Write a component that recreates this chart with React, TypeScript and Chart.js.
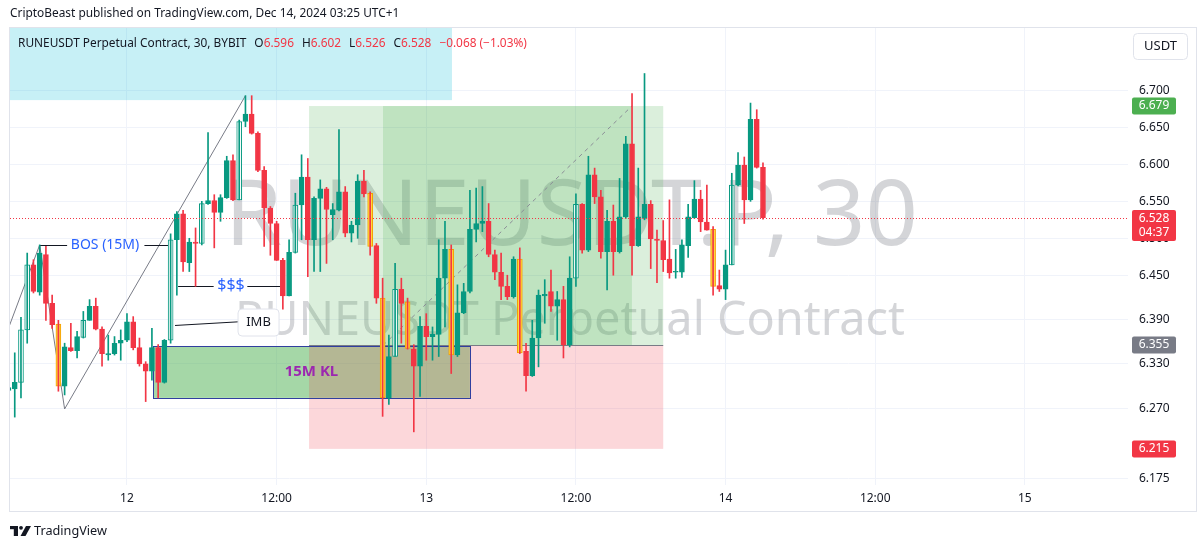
import React, { useEffect, useRef } from "react";
import { Chart, registerables } from "chart.js";

Chart.register(...registerables);

// ---------- DATA ----------
// Time axis: hours relative to Dec 12 00:00 (UTC+1); 30-minute candles starting Dec 11 14:30
const firstCandleHour = -9.5;
const candleStepHours = 0.5;

const opens = [
  6.294,
  6.296, 6.305, 6.376, 6.464, 6.427, 6.478, 6.412, 6.384, 6.300, 6.352,
  6.348, 6.366, 6.389, 6.408, 6.377, 6.342, 6.344, 6.358, 6.362, 6.387,
  6.352, 6.330, 6.320, 6.352, 6.305, 6.362, 6.498, 6.533, 6.467, 6.495,
  6.493, 6.547, 6.551, 6.535, 6.555, 6.605, 6.552, 6.658, 6.668, 6.642,
  6.592, 6.541, 6.520, 6.470, 6.422, 6.481, 6.545, 6.583, 6.498, 6.554,
  6.567, 6.532, 6.538, 6.563, 6.507, 6.518, 6.577, 6.561, 6.490, 6.419,
  6.284, 6.340, 6.431, 6.414, 6.350, 6.327, 6.381, 6.367, 6.370, 6.446,
  6.485, 6.342, 6.399, 6.428, 6.512, 6.520, 6.523, 6.478, 6.454, 6.435,
  6.421, 6.472, 6.347, 6.314, 6.365, 6.422, 6.428, 6.408, 6.417, 6.356,
  6.446, 6.546, 6.484, 6.586, 6.556, 6.482, 6.523, 6.482, 6.529, 6.628,
  6.490, 6.527, 6.546, 6.499, 6.497, 6.472, 6.454, 6.454, 6.490, 6.528,
  6.553, 6.522, 6.512, 6.436, 6.431, 6.464, 6.572, 6.599, 6.552, 6.661,
  6.596,
];
const highs = [
  6.299,
  6.345, 6.393, 6.480, 6.471, 6.491, 6.489, 6.423, 6.389, 6.358, 6.385,
  6.374, 6.401, 6.417, 6.419, 6.380, 6.369, 6.367, 6.376, 6.398, 6.394,
  6.365, 6.333, 6.378, 6.356, 6.363, 6.506, 6.536, 6.538, 6.500, 6.514,
  6.550, 6.643, 6.559, 6.559, 6.611, 6.613, 6.660, 6.693, 6.693, 6.644,
  6.597, 6.543, 6.523, 6.473, 6.498, 6.561, 6.613, 6.608, 6.556, 6.579,
  6.569, 6.547, 6.647, 6.570, 6.523, 6.586, 6.592, 6.563, 6.493, 6.446,
  6.369, 6.466, 6.446, 6.419, 6.356, 6.394, 6.398, 6.380, 6.498, 6.523,
  6.491, 6.437, 6.439, 6.565, 6.568, 6.570, 6.547, 6.484, 6.480, 6.450,
  6.475, 6.487, 6.358, 6.389, 6.430, 6.444, 6.457, 6.428, 6.435, 6.475,
  6.560, 6.547, 6.611, 6.595, 6.565, 6.538, 6.545, 6.581, 6.638, 6.696,
  6.595, 6.723, 6.551, 6.511, 6.524, 6.552, 6.485, 6.498, 6.546, 6.578,
  6.565, 6.572, 6.516, 6.457, 6.484, 6.588, 6.616, 6.610, 6.683, 6.674,
  6.602,
];
const lows = [
  6.226,
  6.258, 6.284, 6.358, 6.426, 6.423, 6.389, 6.378, 6.293, 6.288, 6.347,
  6.338, 6.365, 6.389, 6.376, 6.327, 6.335, 6.342, 6.335, 6.360, 6.349,
  6.327, 6.279, 6.308, 6.284, 6.304, 6.358, 6.423, 6.455, 6.455, 6.435,
  6.491, 6.546, 6.487, 6.523, 6.554, 6.551, 6.552, 6.651, 6.641, 6.590,
  6.489, 6.477, 6.470, 6.404, 6.422, 6.480, 6.498, 6.448, 6.455, 6.455,
  6.466, 6.498, 6.537, 6.502, 6.495, 6.500, 6.556, 6.477, 6.412, 6.259,
  6.275, 6.340, 6.358, 6.350, 6.238, 6.286, 6.335, 6.335, 6.340, 6.380,
  6.317, 6.340, 6.398, 6.426, 6.495, 6.509, 6.475, 6.444, 6.417, 6.417,
  6.419, 6.344, 6.293, 6.313, 6.326, 6.385, 6.401, 6.362, 6.338, 6.353,
  6.435, 6.480, 6.482, 6.547, 6.473, 6.430, 6.450, 6.480, 6.527, 6.450,
  6.489, 6.525, 6.459, 6.440, 6.455, 6.446, 6.446, 6.447, 6.474, 6.527,
  6.509, 6.511, 6.423, 6.428, 6.417, 6.464, 6.571, 6.520, 6.550, 6.595,
  6.526,
];
const closes = [
  6.298,
  6.305, 6.376, 6.464, 6.428, 6.480, 6.412, 6.383, 6.300, 6.353, 6.348,
  6.367, 6.389, 6.408, 6.377, 6.344, 6.344, 6.358, 6.362, 6.387, 6.352,
  6.330, 6.320, 6.352, 6.305, 6.362, 6.498, 6.533, 6.468, 6.495, 6.493,
  6.547, 6.551, 6.535, 6.555, 6.605, 6.552, 6.658, 6.668, 6.642, 6.592,
  6.541, 6.520, 6.470, 6.422, 6.481, 6.545, 6.583, 6.498, 6.554, 6.567,
  6.539, 6.539, 6.563, 6.507, 6.518, 6.577, 6.560, 6.489, 6.419, 6.284,
  6.340, 6.431, 6.412, 6.351, 6.327, 6.381, 6.367, 6.370, 6.446, 6.485,
  6.342, 6.399, 6.428, 6.512, 6.520, 6.523, 6.478, 6.454, 6.435, 6.421,
  6.472, 6.345, 6.314, 6.365, 6.423, 6.424, 6.408, 6.417, 6.356, 6.446,
  6.546, 6.484, 6.586, 6.556, 6.482, 6.523, 6.482, 6.529, 6.628, 6.490,
  6.529, 6.546, 6.499, 6.497, 6.471, 6.453, 6.455, 6.491, 6.529, 6.553,
  6.522, 6.511, 6.435, 6.431, 6.464, 6.572, 6.599, 6.552, 6.661, 6.596,
  6.528,
];
// indicator-highlighted candles (array indices)
const hollowBullCandles = [2, 3, 12, 26, 31, 37, 46, 62, 91, 116];
const highlightedBearCandles = [8, 58, 60, 64, 71, 82, 113];

const xTickValues = [0, 12, 24, 36, 48, 60, 72];
const xTickLabels = ["12", "12:00", "13", "12:00", "14", "12:00", "15"];
const yTickValues = [6.175, 6.27, 6.33, 6.39, 6.45, 6.5, 6.55, 6.6, 6.65, 6.7];
const xRange = [-9.38, 80.27];
const yRange = [6.1661, 6.7846];

// drawings (time in hours, price)
const infoBoxTimes = [-12, 26.06];
const infoBoxPrices = [6.687, 6.9];
const klBoxTimes = [2.09, 27.5];
const klBoxPrices = [6.284, 6.354];
const positionTimes = [14.6, 20.53, 40.49, 43.0]; // start, entry, exit, end
const positionPrices = [6.215, 6.355, 6.679]; // stop, entry, target
const zigzagTimes = [-10, -7, -5, 9.5];
const zigzagPrices = [6.356, 6.491, 6.269, 6.693];
const bosLine = { t0: -7, t1: 3.5, price: 6.491, textT: -1.76, gap: [-4.8, 1.4] };
const liqLine = { t0: 4.1, t1: 12.3, price: 6.436, textT: 8.34, gap: [6.95, 9.65] };
const imbLine = { t0: 3.85, p0: 6.382, t1: 9.0, p1: 6.387, labelT: 10.55, labelP: 6.386 };
const countdown = "04:37";

// ---------- COLORS ----------
const UP = "#089981";
const DOWN = "#f23645";
const YELLOW = "#ffd740";
const ORANGE = "#f59f00";

const times = opens.map((_, k) => firstCandleHour + k * candleStepHours);

function bodyFill(k: number) {
  if (highlightedBearCandles.includes(k)) return YELLOW;
  if (hollowBullCandles.includes(k)) return "#ffffff";
  return closes[k] >= opens[k] ? UP : DOWN;
}
function bodyBorder(k: number) {
  if (highlightedBearCandles.includes(k)) return ORANGE;
  return closes[k] >= opens[k] ? UP : DOWN;
}
function wickColor(k: number) {
  return closes[k] >= opens[k] ? UP : DOWN;
}

const FONT = '"Noto Sans", "Open Sans", sans-serif';

function fitSize(ctx: CanvasRenderingContext2D, text: string, width: number, weight = "normal") {
  ctx.font = `${weight} 100px ${FONT}`;
  const w = ctx.measureText(text).width;
  return (100 * width) / w;
}

const overlayPlugin = {
  id: "tvOverlay",
  beforeDatasetsDraw(chart: any) {
    const { ctx, chartArea: a, scales } = chart;
    const X = (v: number) => scales.x.getPixelForValue(v);
    const Y = (v: number) => scales.y.getPixelForValue(v);
    ctx.save();
    ctx.beginPath();
    ctx.rect(a.left, a.top, a.right - a.left, a.bottom - a.top);
    ctx.clip();

    // watermark
    ctx.fillStyle = "rgba(120,123,134,0.32)";
    ctx.textAlign = "left";
    ctx.textBaseline = "alphabetic";
    let s = fitSize(ctx, "RUNEUSDT.P, 30", 693);
    ctx.font = `normal ${s}px ${FONT}`;
    ctx.fillText("RUNEUSDT.P, 30", 225, 245);
    s = fitSize(ctx, "RUNEUSDT Perpetual Contract", 670);
    ctx.font = `normal ${s}px ${FONT}`;
    ctx.fillText("RUNEUSDT Perpetual Contract", 235, 335);

    // info (cyan) box
    ctx.fillStyle = "rgba(0,188,212,0.22)";
    ctx.fillRect(X(infoBoxTimes[0]), Y(infoBoxPrices[1]), X(infoBoxTimes[1]) - X(infoBoxTimes[0]), Y(infoBoxPrices[0]) - Y(infoBoxPrices[1]));

    // KL box
    const kx0 = X(klBoxTimes[0]), kx1 = X(klBoxTimes[1]);
    const ky0 = Y(klBoxPrices[1]), ky1 = Y(klBoxPrices[0]);
    ctx.fillStyle = "rgba(76,175,80,0.5)";
    ctx.fillRect(kx0, ky0, kx1 - kx0, ky1 - ky0);

    // long position tool
    const [ps, pe, px, pend] = positionTimes.map(X);
    const [stop, entry, target] = positionPrices.map(Y);
    ctx.fillStyle = "rgba(76,175,80,0.2)";
    ctx.fillRect(ps, target, pend - ps, entry - target);
    ctx.fillRect(pe, target, px - pe, entry - target);
    ctx.fillStyle = "rgba(242,54,69,0.2)";
    ctx.fillRect(ps, entry, pend - ps, stop - entry);
    ctx.strokeStyle = "#787b86";
    ctx.lineWidth = 1;
    ctx.beginPath();
    ctx.moveTo(ps, Math.round(entry) + 0.5);
    ctx.lineTo(pend, Math.round(entry) + 0.5);
    ctx.stroke();
    ctx.setLineDash([4, 4]);
    ctx.strokeStyle = "#8a8d96";
    ctx.beginPath();
    ctx.moveTo(pe, entry);
    ctx.lineTo(px, target);
    ctx.stroke();
    ctx.setLineDash([]);

    // KL border
    ctx.strokeStyle = "#303f9f";
    ctx.lineWidth = 1;
    ctx.strokeRect(Math.round(kx0) + 0.5, Math.round(ky0) + 0.5, Math.round(kx1 - kx0), Math.round(ky1 - ky0));

    // zigzag
    ctx.strokeStyle = "#787b86";
    ctx.lineWidth = 1;
    ctx.beginPath();
    zigzagTimes.forEach((t, i) => {
      const xx = X(t), yy = Y(zigzagPrices[i]);
      if (i === 0) ctx.moveTo(xx, yy);
      else ctx.lineTo(xx, yy);
    });
    ctx.stroke();

    // BOS / $$$ / IMB lines
    ctx.strokeStyle = "#131722";
    const hline = (l: any) => {
      const yy = Math.round(Y(l.price)) + 0.5;
      ctx.beginPath();
      ctx.moveTo(X(l.t0), yy);
      ctx.lineTo(X(l.gap[0]), yy);
      ctx.moveTo(X(l.gap[1]), yy);
      ctx.lineTo(X(l.t1), yy);
      ctx.stroke();
    };
    hline(bosLine);
    hline(liqLine);
    ctx.beginPath();
    ctx.moveTo(X(imbLine.t0), Y(imbLine.p0));
    ctx.lineTo(X(imbLine.t1), Y(imbLine.p1));
    ctx.stroke();

    ctx.restore();
  },
  afterDatasetsDraw(chart: any) {
    const { ctx, chartArea: a, scales } = chart;
    const X = (v: number) => scales.x.getPixelForValue(v);
    const Y = (v: number) => scales.y.getPixelForValue(v);
    ctx.save();
    ctx.beginPath();
    ctx.rect(a.left, a.top, a.right - a.left, a.bottom - a.top);
    ctx.clip();

    // texts
    ctx.textAlign = "center";
    ctx.textBaseline = "middle";
    ctx.fillStyle = "#2962ff";
    ctx.font = `normal 14px ${FONT}`;
    ctx.fillText("BOS (15M)", X(bosLine.textT), Y(bosLine.price));
    ctx.font = `normal 16px ${FONT}`;
    ctx.fillText("$$$", X(liqLine.textT), Y(liqLine.price));

    ctx.fillStyle = "#9c27b0";
    ctx.font = `bold 15px ${FONT}`;
    ctx.fillText("15M KL", (X(klBoxTimes[0]) + X(klBoxTimes[1])) / 2, (Y(klBoxPrices[0]) + Y(klBoxPrices[1])) / 2);

    // IMB label
    const lx = X(imbLine.labelT), ly = Y(imbLine.labelP);
    ctx.fillStyle = "#ffffff";
    ctx.strokeStyle = "#e0e3eb";
    ctx.beginPath();
    (ctx as any).roundRect(lx - 20.5, ly - 13.5, 41, 27, 4);
    ctx.fill();
    ctx.stroke();
    ctx.fillStyle = "#131722";
    ctx.font = `normal 13px ${FONT}`;
    ctx.fillText("IMB", lx, ly);

    // current price dotted line
    const cp = closes[closes.length - 1];
    const cy = Math.round(Y(cp)) + 0.5;
    ctx.strokeStyle = DOWN;
    ctx.lineWidth = 1;
    ctx.setLineDash([1, 2]);
    ctx.beginPath();
    ctx.moveTo(a.left, cy);
    ctx.lineTo(a.right, cy);
    ctx.stroke();
    ctx.setLineDash([]);
    ctx.restore();

    // header legend (over plot)
    ctx.save();
    ctx.textAlign = "left";
    ctx.textBaseline = "middle";
    const hy = 44;
    const last = opens.length - 1;
    const chg = closes[last] - closes[last - 1];
    const pct = (chg / closes[last - 1]) * 100;
    const segs: [string, string][] = [
      ["RUNEUSDT Perpetual Contract, 30, BYBIT", ""],
      ["O", opens[last].toFixed(3)],
      ["H", highs[last].toFixed(3)],
      ["L", lows[last].toFixed(3)],
      ["C", closes[last].toFixed(3)],
      ["", `\u2212${Math.abs(chg).toFixed(3)} (\u2212${Math.abs(pct).toFixed(2)}%)`],
    ];
    const gap = 8;
    ctx.font = `normal 100px ${FONT}`;
    let w100 = 0;
    segs.forEach(([k, v]) => (w100 += ctx.measureText(k + v).width));
    const fs = (100 * (509 - gap * (segs.length - 1))) / w100;
    ctx.font = `normal ${fs}px ${FONT}`;
    let cx = 18;
    segs.forEach(([k, v]) => {
      ctx.fillStyle = "#131722";
      ctx.fillText(k, cx, hy);
      cx += ctx.measureText(k).width;
      ctx.fillStyle = DOWN;
      ctx.fillText(v, cx, hy);
      cx += ctx.measureText(v).width + gap;
    });
    ctx.restore();
  },
  afterDraw(chart: any) {
    const { ctx, scales } = chart;
    const Y = (v: number) => scales.y.getPixelForValue(v);
    ctx.save();
    // frame
    ctx.strokeStyle = "#e0e3eb";
    ctx.lineWidth = 1;
    ctx.strokeRect(9.5, 27.5, 1187, 484);

    // price axis labels
    const label = (price: number, bg: string, extra?: string) => {
      const yy = Y(price);
      const h = extra ? 31 : 17;
      const top = extra ? Math.round(yy) - 8 : Math.round(yy) - 8.5;
      ctx.fillStyle = bg;
      ctx.beginPath();
      (ctx as any).roundRect(1132, top, 44, h, 2);
      ctx.fill();
      ctx.fillStyle = "#ffffff";
      ctx.font = `normal 12px ${FONT}`;
      ctx.textAlign = "center";
      ctx.textBaseline = "middle";
      ctx.fillText(price.toFixed(3), 1154, top + 8.5);
      if (extra) ctx.fillText(extra, 1154, top + 23);
    };
    label(positionPrices[2], "#4caf50");
    label(positionPrices[1], "#787b86");
    label(positionPrices[0], DOWN);
    label(closes[closes.length - 1], DOWN, countdown);

    // USDT button
    ctx.fillStyle = "#ffffff";
    ctx.strokeStyle = "#e0e3eb";
    ctx.beginPath();
    (ctx as any).roundRect(1133.5, 33.5, 54, 26, 4);
    ctx.fill();
    ctx.stroke();
    ctx.fillStyle = "#131722";
    ctx.font = `normal 13px ${FONT}`;
    ctx.textAlign = "center";
    ctx.textBaseline = "middle";
    ctx.fillText("USDT", 1160.5, 46.5);

    // title
    ctx.textAlign = "left";
    const title = "CriptoBeast published on TradingView.com, Dec 14, 2024 03:25 UTC+1";
    const ts = fitSize(ctx, title, 390);
    ctx.font = `normal ${ts}px ${FONT}`;
    ctx.fillStyle = "#131722";
    ctx.fillText(title, 10, 14);

    // TradingView logo
    ctx.fillStyle = "#131722";
    ctx.fillRect(10, 526, 8, 3.2);
    ctx.fillRect(13.8, 526, 4.2, 10);
    ctx.beginPath();
    ctx.arc(21, 527.8, 1.9, 0, Math.PI * 2);
    ctx.fill();
    ctx.beginPath();
    ctx.moveTo(26, 526);
    ctx.lineTo(31, 526);
    ctx.lineTo(25.5, 536);
    ctx.lineTo(20.5, 536);
    ctx.closePath();
    ctx.fill();
    const ls = fitSize(ctx, "TradingView", 73);
    ctx.font = `normal ${ls}px ${FONT}`;
    ctx.fillText("TradingView", 34, 531);
    ctx.restore();
  },
};

export default function App() {
  const ref = useRef<HTMLCanvasElement>(null);
  useEffect(() => {
    document.body.style.margin = "0";
    const canvas = ref.current!;
    const wickData = times.map((t, k) => ({ x: t, y: [lows[k], highs[k]] }));
    const bodyData = times.map((t, k) => ({ x: t, y: [opens[k], closes[k]] }));
    const chart = new Chart(canvas, {
      type: "bar",
      data: {
        datasets: [
          {
            data: wickData as any,
            backgroundColor: times.map((_, k) => wickColor(k)),
            borderWidth: 0,
            barThickness: 1,
            grouped: false,
          } as any,
          {
            data: bodyData as any,
            backgroundColor: times.map((_, k) => bodyFill(k)),
            borderColor: times.map((_, k) => bodyBorder(k)),
            borderWidth: 1,
            borderSkipped: false,
            barThickness: 5,
            minBarLength: 1,
            grouped: false,
          } as any,
        ],
      },
      options: {
        animation: false,
        responsive: false,
        maintainAspectRatio: false,
        layout: { padding: { left: 10, top: 28, right: 3, bottom: 37 } },
        plugins: { legend: { display: false }, tooltip: { enabled: false } },
        scales: {
          x: {
            type: "linear",
            min: xRange[0],
            max: xRange[1],
            offset: false,
            grid: { color: "#f0f3fa", drawTicks: false, offset: false },
            border: { display: false },
            ticks: {
              autoSkip: false,
              maxRotation: 0,
              padding: 6,
              color: "#131722",
              font: { size: 12, family: FONT },
              callback: (v: any) => {
                const i = xTickValues.indexOf(Number(v));
                return i >= 0 ? xTickLabels[i] : "";
              },
            },
            afterBuildTicks: (s: any) => {
              s.ticks = xTickValues.map((v) => ({ value: v }));
            },
            afterFit: (s: any) => {
              s.height = 27;
            },
          },
          y: {
            position: "right",
            min: yRange[0],
            max: yRange[1],
            beginAtZero: false,
            grid: { color: "#f0f3fa", drawTicks: false },
            border: { display: false },
            ticks: {
              padding: 11,
              color: "#131722",
              font: { size: 12, family: FONT },
              callback: (v: any) => Number(v).toFixed(3),
            },
            afterBuildTicks: (s: any) => {
              s.ticks = yTickValues.map((v) => ({ value: v }));
            },
            afterFit: (s: any) => {
              s.width = 69;
            },
          },
        },
      } as any,
      plugins: [overlayPlugin],
    });
    return () => chart.destroy();
  }, []);
  return (
    <div style={{ position: "absolute", left: 0, top: 0, width: 1200, height: 549, background: "#ffffff" }}>
      <canvas ref={ref} width={1200} height={549} style={{ display: "block", width: 1200, height: 549 }} />
    </div>
  );
}
